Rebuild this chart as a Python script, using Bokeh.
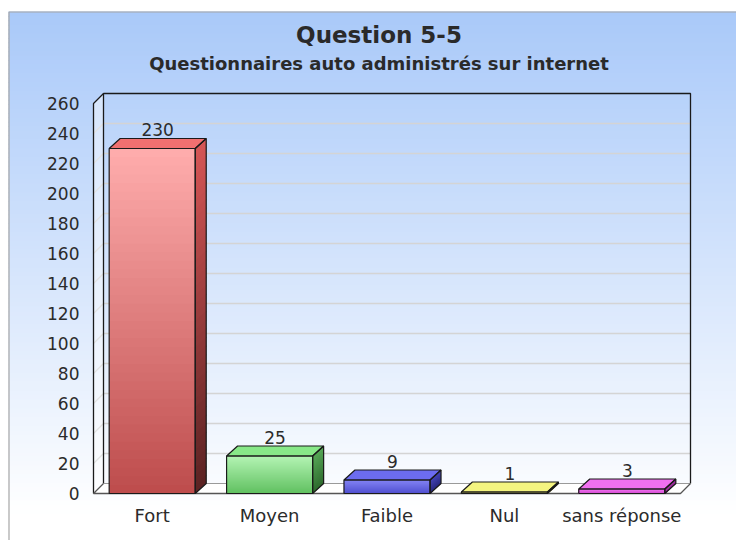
import numpy as np
from bokeh.plotting import figure
from bokeh.models import Range1d, ColumnDataSource
from bokeh.core.properties import value
from bokeh.embed import file_html
from bokeh.resources import INLINE

# ---------------- data ----------------
title = "Question 5-5"
subtitle = "Questionnaires auto administrés sur internet"
categories = ["Fort", "Moyen", "Faible", "Nul", "sans réponse"]
counts = [230, 25, 9, 1, 3]
y_ticks = [0, 20, 40, 60, 80, 100, 120, 140, 160, 180, 200, 220, 240, 260]

# ---------------- style ----------------
front_top = ["#ffadad", "#b4f4b4", "#8484f4", "#f2f27a", "#f27af2"]
front_bot = ["#bd4c4c", "#60c060", "#5050d0", "#e6e060", "#d44cd4"]
side_top = ["#d65656", "#58a858", "#4646b8", "#c8c850", "#b040b0"]
side_bot = ["#5a2222", "#2e6a2e", "#2a2a80", "#a8a840", "#902890"]
top_col = ["#f07070", "#88e888", "#6c6cf0", "#f4f480", "#f070f0"]
FONT = value("DejaVu Sans")
TXT = "#2b2b2b"

W, H = 736, 540
FL, FR, FT, FB = 93, 680, 103, 493        # front plot frame in canvas px
n = len(categories)
y_max = y_ticks[-1]
sx = (FR - FL) / n
sy = (FB - FT) / y_max


def px2x(lx):
    return (lx - FL) / sx


def py2y(ly):
    return (FB - ly) / sy


x_range = Range1d(px2x(0), px2x(W))
y_range = Range1d(py2y(H), py2y(0))

p = figure(width=W, height=H, x_range=x_range, y_range=y_range,
           x_axis_type=None, y_axis_type=None, toolbar_location=None,
           output_backend="svg", min_border=0, outline_line_color=None,
           background_fill_color="white", border_fill_color="white")
p.grid.visible = False


def mix(c1, c2, t):
    a = np.array([int(c1[i:i + 2], 16) for i in (1, 3, 5)], float)
    b = np.array([int(c2[i:i + 2], 16) for i in (1, 3, 5)], float)
    c = a + (b - a) * t
    return "#%02x%02x%02x" % tuple(int(round(v)) for v in c)


# ---------------- background gradient ----------------
top_ly, end_ly = 11, 515
nb = 120
edges = np.linspace(top_ly, H, nb + 1)
bg_cols = []
for k in range(nb):
    mid = (edges[k] + edges[k + 1]) / 2
    t = min(1.0, max(0.0, (mid - top_ly) / (end_ly - top_ly)))
    bg_cols.append(mix("#a9c9f9", "#ffffff", t))
p.quad(left=px2x(8), right=px2x(W), top=[py2y(e) for e in edges[:-1]],
       bottom=[py2y(e + 1) for e in edges[1:]], fill_color=bg_cols,
       line_color=None)

# outer border
p.line([px2x(8.5), px2x(8.5), px2x(W)], [py2y(H), py2y(11.5), py2y(11.5)],
       line_color="#a6a6a6", line_width=1.2)

# ---------------- 3D frame ----------------
wdx, wdy = 10 / sx, 10 / sy   # wall depth
bdx, bdy = 11 / sx, 10 / sy   # bar depth

# left side wall & floor
p.patch([0, wdx, wdx, 0], [0, wdy, y_max + wdy, y_max], fill_color="white",
        fill_alpha=0.45, line_color=None)
p.patch([0, wdx, n + wdx, n], [0, wdy, wdy, 0], fill_color="white",
        line_color=None)

# gridlines
gt = y_ticks[1:-1]
p.segment(x0=[wdx] * len(gt), y0=[t + wdy for t in gt],
          x1=[n + wdx] * len(gt), y1=[t + wdy for t in gt],
          line_color="#d4d4d4", line_width=1.6)
p.segment(x0=[0] * len(gt), y0=gt, x1=[wdx] * len(gt),
          y1=[t + wdy for t in gt], line_color="#e2e2e2", line_width=1.2)

# wall outlines
p.line([wdx, wdx, n + wdx, n + wdx], [wdy, y_max + wdy, y_max + wdy, wdy],
       line_color="#1a1a1a", line_width=1.3)
p.line([0, 0, wdx], [0, y_max, y_max + wdy], line_color="#1a1a1a",
       line_width=1.3)
p.line([wdx, n + wdx], [wdy, wdy], line_color="#9a9a9a", line_width=1)
p.line([wdx, 0, n, n + wdx], [wdy, 0, 0, wdy], line_color="#555555",
       line_width=1.3)

# ---------------- bars ----------------
half = 0.3665
ns = 40
ov = 1.2 / sy
for i, v in enumerate(counts):
    x0 = i + 0.5 - half
    x1 = i + 0.5 + half
    ys = np.linspace(v, 0, ns + 1)
    bots = [max(0.0, y - ov) for y in ys[1:]]
    # front gradient
    p.quad(left=x0, right=x1, top=list(ys[:-1]), bottom=bots,
           fill_color=[mix(front_top[i], front_bot[i], (k + 0.5) / ns)
                       for k in range(ns)], line_color=None)
    # side gradient
    xs_s, ys_s, cs = [], [], []
    for k in range(ns):
        ya, yb = ys[k], bots[k]
        xs_s.append([x1, x1 + bdx, x1 + bdx, x1])
        ys_s.append([ya, ya + bdy, yb + bdy, yb])
        cs.append(mix(side_top[i], side_bot[i], (k + 0.5) / ns))
    p.patches(xs_s, ys_s, fill_color=cs, line_color=None)
    # top face
    p.patch([x0, x0 + bdx, x1 + bdx, x1], [v, v + bdy, v + bdy, v],
            fill_color=top_col[i], line_color="#1a1a1a", line_width=1.2)
    # outlines
    p.patch([x1, x1 + bdx, x1 + bdx, x1], [0, bdy, v + bdy, v],
            fill_color=None, line_color="#1a1a1a", line_width=1.2)
    p.patch([x0, x1, x1, x0], [0, 0, v, v], fill_color=None,
            line_color="#1a1a1a", line_width=1.2)

# value labels
src = ColumnDataSource(dict(x=[i + 0.5 + bdx / 2 for i in range(n)],
                            y=[v + bdy for v in counts],
                            t=[str(v) for v in counts]))
p.text(x="x", y="y", text="t", source=src, text_align="center",
       text_baseline="middle", y_offset=-9, text_font=FONT,
       text_font_size="17px", text_color=TXT)

# y tick labels
p.text(x=[px2x(FL - 14)] * len(y_ticks), y=y_ticks,
       text=[str(t) for t in y_ticks], text_align="right",
       text_baseline="middle", text_font=FONT, text_font_size="17px",
       text_color=TXT)

# category labels
p.text(x=[i + 0.5 for i in range(n)], y=[py2y(FB + 22)] * n, text=categories,
       text_align="center", text_baseline="middle", text_font=FONT,
       text_font_size="18px", text_color=TXT)

# titles
p.text(x=[px2x(378.5)], y=[py2y(34)], text=[title], text_align="center",
       text_baseline="middle", text_font=FONT, text_font_size="23px",
       text_font_style="bold", text_color="#2a2a2a")
p.text(x=[px2x(378.5)], y=[py2y(63)], text=[subtitle], text_align="center",
       text_baseline="middle", text_font=FONT, text_font_size="18px",
       text_font_style="bold", text_color="#2a2a2a")

open("out.html", "w").write(file_html(p, INLINE))
